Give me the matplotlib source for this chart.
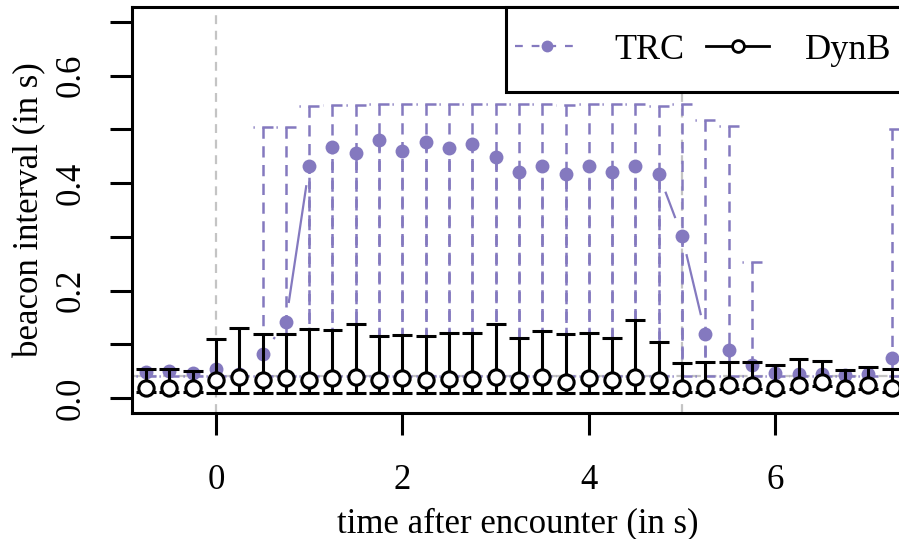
import numpy as np
import matplotlib
matplotlib.use("Agg")
import matplotlib.pyplot as plt
from matplotlib.lines import Line2D
from matplotlib.patches import Rectangle

# time after encounter (s)
times = [-0.75, -0.5, -0.25, 0.0, 0.25, 0.5, 0.75, 1.0, 1.25, 1.5, 1.75,
         2.0, 2.25, 2.5, 2.75, 3.0, 3.25, 3.5, 3.75, 4.0, 4.25, 4.5, 4.75,
         5.0, 5.25, 5.5, 5.75, 6.0, 6.25, 6.5, 6.75, 7.0, 7.25]

# TRC beacon interval (mean, upper, lower)
trc_mean = [0.048, 0.050, 0.046, 0.054, 0.045, 0.081, 0.142, 0.431, 0.468,
            0.457, 0.481, 0.460, 0.476, 0.465, 0.472, 0.448, 0.420, 0.431,
            0.417, 0.431, 0.421, 0.431, 0.417, 0.302, 0.120, 0.089, 0.061,
            0.047, 0.045, 0.045, 0.042, 0.045, 0.075]
trc_upper = [0.048, 0.050, 0.046, 0.054, 0.045, 0.504, 0.504, 0.544, 0.546,
             0.546, 0.547, 0.547, 0.548, 0.548, 0.548, 0.547, 0.548, 0.547,
             0.546, 0.548, 0.548, 0.548, 0.544, 0.547, 0.517, 0.506, 0.254,
             0.047, 0.045, 0.045, 0.042, 0.045, 0.500]
trc_lower = [0.040, 0.040, 0.040, 0.040, 0.040, 0.040, 0.040, 0.040, 0.040,
             0.040, 0.040, 0.040, 0.040, 0.040, 0.040, 0.040, 0.040, 0.040,
             0.040, 0.040, 0.040, 0.040, 0.040, 0.040, 0.040, 0.040, 0.040,
             0.040, 0.040, 0.040, 0.040, 0.040, 0.040]

# DynB beacon interval (mean, upper, lower)
dynb_mean = [0.019, 0.019, 0.019, 0.034, 0.039, 0.034, 0.037, 0.034, 0.037,
             0.039, 0.034, 0.037, 0.034, 0.035, 0.035, 0.039, 0.034, 0.039,
             0.030, 0.037, 0.034, 0.039, 0.034, 0.019, 0.019, 0.024, 0.024,
             0.019, 0.024, 0.030, 0.019, 0.024, 0.019]
dynb_upper = [0.054, 0.054, 0.050, 0.110, 0.131, 0.119, 0.119, 0.129, 0.127,
              0.138, 0.116, 0.118, 0.116, 0.121, 0.121, 0.138, 0.112, 0.125,
              0.119, 0.121, 0.112, 0.146, 0.104, 0.065, 0.067, 0.067, 0.067,
              0.062, 0.073, 0.069, 0.052, 0.058, 0.054]
dynb_lower = [0.012, 0.012, 0.012, 0.009, 0.009, 0.009, 0.009, 0.009, 0.009,
              0.009, 0.009, 0.009, 0.009, 0.009, 0.009, 0.009, 0.009, 0.009,
              0.009, 0.009, 0.009, 0.009, 0.009, 0.012, 0.012, 0.016, 0.016,
              0.012, 0.016, 0.022, 0.012, 0.016, 0.012]

purple = '#8479bf'
plt.rcParams['font.family'] = ['Liberation Serif', 'DejaVu Serif']

W, H = 899, 539
fig = plt.figure(figsize=(W / 100, H / 100), dpi=100)
ax = fig.add_axes([132 / W, 1 - 413 / H, (903 - 132) / W, (413 - 7) / H])
ax.set_xlim(-0.901, 7.371)
ax.set_ylim(-0.028, 0.728)

t = np.array(times)
cap = 0.107
dash = (0, (4.5, 3))

# reference lines
for v in [0, 5]:
    ax.axvline(v, color='#c4c4c4', lw=1.6, ls=(0, (4, 3)), zorder=1)
ax.axhline(0.04, color='#c4c4c4', lw=1.6, ls=(0, (4, 3)), zorder=1)

# TRC error bars (dashed)
m = np.array(trc_mean)
up = np.array(trc_upper)
lo = np.array(trc_lower)
sel = up > m
ax.vlines(t[sel], up[sel], lo[sel], color=purple, lw=1.8, linestyles=dash, zorder=2)
ax.hlines(up[sel], t[sel] + cap, t[sel] - cap, color=purple, lw=1.8, linestyles=dash, zorder=2)
ax.vlines(t, lo, m, color=purple, lw=1.8, linestyles=dash, zorder=2)
ax.hlines(lo, t + cap, t - cap, color=purple, lw=1.8, linestyles=dash, zorder=2)

# TRC line, R type "b": segments with gaps around points
pts = ax.transData.transform(np.column_stack([t, m]))
gap = 20
for p0, p1 in zip(pts[:-1], pts[1:]):
    d = p1 - p0
    L = np.hypot(*d)
    if L > 2 * gap:
        a = p0 + d * gap / L
        b = p1 - d * gap / L
        seg = ax.transData.inverted().transform([a, b])
        ax.plot(seg[:, 0], seg[:, 1], color=purple, lw=1.6, zorder=3)
ax.plot(t, m, 'o', color=purple, ms=10, mec='none', zorder=4)

# DynB error bars (solid)
dm = np.array(dynb_mean)
du = np.array(dynb_upper)
dl = np.array(dynb_lower)
ax.vlines(t, dl, du, color='black', lw=2.2, zorder=5)
ax.hlines(du, t - cap, t + cap, color='black', lw=2.2, zorder=5)
ax.hlines(dl, t - cap, t + cap, color='black', lw=2.2, zorder=5)
ax.plot(t, dm, 'o', mfc='white', mec='black', mew=2.2, ms=11, ls='none', zorder=6)

# axes styling (R like)
for s in ax.spines.values():
    s.set_linewidth(2.2)
ax.set_xticks([0, 2, 4, 6])
ax.set_yticks([0.0, 0.1, 0.2, 0.3, 0.4, 0.5, 0.6, 0.7])
ax.set_yticklabels(['0.0', '', '0.2', '', '0.4', '', '0.6', ''])
ax.tick_params(length=16, width=2.2, labelsize=25)
ax.tick_params(axis='x', pad=21)
ax.tick_params(axis='y', pad=16)
for lab in ax.get_yticklabels():
    lab.set_rotation(90)
    lab.set_va('center')
ax.set_xlabel('time after encounter (in s)', fontsize=25, labelpad=7)
ax.set_ylabel('beacon interval (in s)', fontsize=25, labelpad=6)

# legend: frame drawn separately (R style box), entries from ax.legend
box = Rectangle((0.485, 0.7906), 0.6, 0.2094, transform=ax.transAxes,
                facecolor='white', edgecolor='black', lw=2.2, zorder=8, clip_on=False)
ax.add_patch(box)
h1 = Line2D([], [], color=purple, lw=1.6, ls=(0, (3.5, 4)), marker='o', ms=8.5, mec='none')
h2 = Line2D([], [], color='black', lw=2, marker='o', ms=8.5, mfc='white', mec='black', mew=2)
leg = ax.legend([h1, h2], ['TRC', 'DynB'], loc='center left', bbox_to_anchor=(0.4968, 0.894),
                ncol=2, fontsize=26, frameon=False, borderaxespad=0, borderpad=0,
                handlelength=1.75, handletextpad=1.0, columnspacing=0.6)
leg.set_zorder(9)

fig.savefig('out.png', dpi=100)
